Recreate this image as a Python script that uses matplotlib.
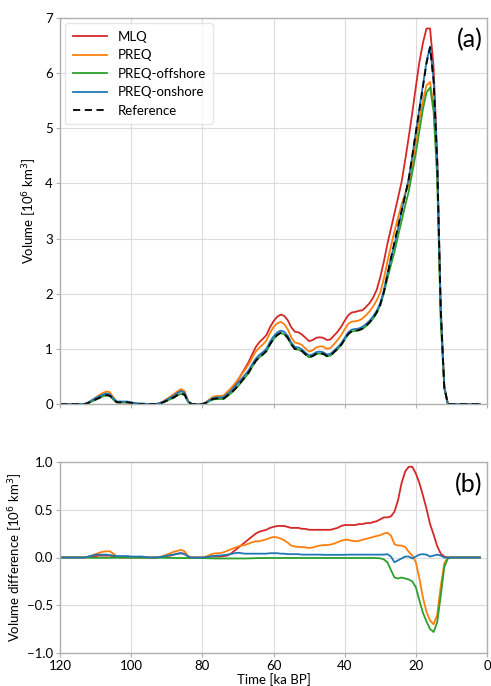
import numpy as np
import matplotlib
matplotlib.use("Agg")
import matplotlib.pyplot as plt

plt.rcParams['font.family'] = ['Lato', 'DejaVu Sans']

# time grid [ka BP], 120 -> 2
time_ka = list(range(120, 1, -1))

# Reference ice volume [10^6 km^3], one value per ka from 120 to 2
reference = [
    0, 0, 0, 0, 0, 0, 0, 0.0,                       # 120-113
    0.02, 0.05, 0.08, 0.11, 0.14, 0.16, 0.15, 0.08,  # 112-105
    0.03, 0.03, 0.03, 0.03, 0.02, 0.01,              # 104-99
    0.0, 0.0, 0.0, 0.0, 0.0, 0.0,                    # 98-93
    0.01, 0.03, 0.06, 0.09, 0.12, 0.16, 0.19, 0.17,  # 92-85
    0.04, 0.0, 0.0, 0.0, 0.0,                        # 84-80
    0.02, 0.06, 0.09, 0.10, 0.10, 0.10,              # 79-74
    0.15, 0.20, 0.26, 0.33, 0.41, 0.49, 0.57, 0.68,  # 73-66
    0.78, 0.85, 0.90, 0.96, 1.08, 1.18, 1.25, 1.29,  # 65-58
    1.27, 1.20, 1.08, 1.00, 0.99, 0.96, 0.90, 0.85,  # 57-50
    0.87, 0.91, 0.92, 0.91, 0.87, 0.88, 0.94, 1.00,  # 49-42
    1.07, 1.17, 1.27, 1.32, 1.33, 1.34, 1.37, 1.42,  # 41-34
    1.48, 1.56, 1.66, 1.80, 2.03, 2.33, 2.64, 2.94,  # 33-26
    3.22, 3.50, 3.78, 4.08, 4.50, 4.92, 5.33, 5.75,  # 25-18
    6.18, 6.47, 5.85, 4.40, 1.70, 0.30, 0.0,         # 17-11
    0, 0, 0, 0, 0, 0, 0, 0, 0,                       # 10-2
]

# Differences from the reference shown in panel (b) [10^6 km^3]
diff_mlq = [
    0, 0, 0, 0, 0, 0, 0, 0,
    0.005, 0.01, 0.015, 0.02, 0.02, 0.02, 0.02, 0.01,
    0.005, 0, 0, 0, 0, 0,
    0, 0, 0, 0, 0, 0,
    0.005, 0.01, 0.015, 0.02, 0.03, 0.04, 0.045, 0.04,
    0.01, 0, 0, 0, 0,
    0.005, 0.01, 0.01, 0.01, 0.01, 0.015,
    0.02, 0.04, 0.07, 0.10, 0.13, 0.16, 0.19, 0.22,
    0.25, 0.27, 0.28, 0.29, 0.31, 0.32, 0.33, 0.33,
    0.33, 0.32, 0.31, 0.31, 0.31, 0.30, 0.30, 0.29,
    0.29, 0.29, 0.29, 0.29, 0.29, 0.29, 0.30, 0.31,
    0.33, 0.34, 0.34, 0.34, 0.34, 0.35, 0.35, 0.36,
    0.36, 0.37, 0.38, 0.40, 0.42, 0.42, 0.43, 0.48,
    0.60, 0.78, 0.90, 0.95, 0.95, 0.88, 0.78, 0.65,
    0.51, 0.35, 0.24, 0.12, 0.04, 0.01, 0.0,
    0, 0, 0, 0, 0, 0, 0, 0, 0,
]

diff_preq = [
    0, 0, 0, 0, 0, 0, 0, 0,
    0.01, 0.02, 0.035, 0.05, 0.06, 0.065, 0.065, 0.04,
    0.01, 0.01, 0.005, 0.005, 0.005, 0.0,
    0, 0, 0, 0, 0, 0,
    0.005, 0.015, 0.03, 0.045, 0.06, 0.07, 0.08, 0.065,
    0.015, 0, 0, 0, 0,
    0.01, 0.025, 0.04, 0.045, 0.045, 0.055,
    0.07, 0.085, 0.10, 0.115, 0.125, 0.13, 0.145, 0.16,
    0.17, 0.17, 0.18, 0.19, 0.205, 0.215, 0.21, 0.20,
    0.18, 0.155, 0.125, 0.115, 0.11, 0.11, 0.105, 0.10,
    0.105, 0.115, 0.125, 0.13, 0.13, 0.135, 0.145, 0.16,
    0.175, 0.185, 0.185, 0.175, 0.17, 0.175, 0.185, 0.195,
    0.205, 0.215, 0.225, 0.235, 0.25, 0.26, 0.23, 0.14,
    0.125, 0.125, 0.11, 0.06, 0.02, -0.05, -0.22, -0.42,
    -0.57, -0.66, -0.70, -0.60, -0.30, -0.06, 0.0,
    0, 0, 0, 0, 0, 0, 0, 0, 0,
]

diff_offshore = [
    0, 0, 0, 0, 0, 0, 0, 0,
    -0.002, -0.003, -0.003, -0.003, -0.003, -0.003, -0.003, -0.003,
    -0.002, -0.002, -0.002, -0.002, -0.002, -0.002,
    -0.002, -0.002, -0.002, -0.002, -0.002, -0.002,
    -0.002, -0.003, -0.004, -0.004, -0.005, -0.005, -0.006, -0.006,
    -0.006, -0.005, -0.005, -0.005, -0.006,
    -0.007, -0.008, -0.009, -0.01, -0.01, -0.01,
    -0.01, -0.01, -0.01, -0.01, -0.01, -0.01, -0.009, -0.008,
    -0.007, -0.006, -0.006, -0.005, -0.005, -0.005, -0.005, -0.005,
    -0.005, -0.005, -0.005, -0.005, -0.005, -0.005, -0.005, -0.005,
    -0.005, -0.005, -0.005, -0.005, -0.005, -0.005, -0.005, -0.005,
    -0.005, -0.005, -0.005, -0.005, -0.005, -0.005, -0.005, -0.005,
    -0.005, -0.005, -0.006, -0.008, -0.02, -0.05, -0.13, -0.21,
    -0.22, -0.21, -0.22, -0.23, -0.25, -0.31, -0.45, -0.58,
    -0.67, -0.75, -0.78, -0.68, -0.40, -0.10, -0.01,
    0, 0, 0, 0, 0, 0, 0, 0, 0,
]

diff_onshore = [
    0, 0, 0, 0, 0, 0, 0, 0,
    0.01, 0.02, 0.03, 0.03, 0.03, 0.03, 0.025, 0.02,
    0.015, 0.015, 0.015, 0.015, 0.01, 0.01,
    0.01, 0.01, 0.005, 0.0, 0.0, 0.0,
    0.005, 0.01, 0.02, 0.025, 0.03, 0.04, 0.045, 0.035,
    0.01, 0.0, 0, 0, 0,
    0.005, 0.01, 0.015, 0.02, 0.02, 0.025,
    0.03, 0.035, 0.045, 0.05, 0.045, 0.04, 0.04, 0.04,
    0.04, 0.04, 0.04, 0.04, 0.045, 0.045, 0.045, 0.04,
    0.04, 0.035, 0.035, 0.035, 0.035, 0.03, 0.03, 0.03,
    0.03, 0.03, 0.03, 0.028, 0.028, 0.028, 0.028, 0.028,
    0.028, 0.028, 0.03, 0.03, 0.03, 0.03, 0.03, 0.03,
    0.03, 0.03, 0.03, 0.03, 0.03, 0.035, 0.01, -0.05,
    -0.03, -0.01, 0.01, 0.01, -0.01, 0.01, 0.03, 0.035,
    0.03, 0.01, 0.02, 0.03, 0.02, 0.0, 0.0,
    0, 0, 0, 0, 0, 0, 0, 0, 0,
]

# Panel (a) volumes read directly over the deglaciation window, 35 -> 11 ka
window_ka = list(range(35, 10, -1))
mlq_window = [
    1.70, 1.76, 1.83, 1.93, 2.07, 2.30, 2.58, 2.90, 3.18, 3.46,
    3.74, 4.03, 4.42, 4.84, 5.28, 5.75, 6.20, 6.55, 6.81, 6.81,
    6.10, 4.50, 1.75, 0.32, 0.0,
]
preq_window = [
    1.55, 1.61, 1.68, 1.77, 1.88, 2.02, 2.27, 2.58, 2.86, 3.13,
    3.38, 3.62, 3.82, 3.97, 4.35, 4.75, 5.15, 5.50, 5.78, 5.84,
    5.40, 4.20, 1.60, 0.30, 0.0,
]
offshore_window = [
    1.36, 1.41, 1.47, 1.55, 1.65, 1.79, 2.00, 2.27, 2.52, 2.76,
    3.05, 3.32, 3.60, 3.85, 4.20, 4.55, 4.95, 5.35, 5.65, 5.74,
    5.30, 4.10, 1.50, 0.28, 0.0,
]

series_names = ["MLQ", "PREQ", "PREQ-offshore", "PREQ-onshore"]
series_colors = ["#d62728", "#ff7f0e", "#2ca02c", "#1f77b4"]

t = np.array(time_ka, dtype=float)
ref = np.array(reference)
diffs = [np.array(d) for d in (diff_mlq, diff_preq, diff_offshore, diff_onshore)]
windows = [mlq_window, preq_window, offshore_window, None]

win_idx = [time_ka.index(w) for w in window_ka]
volumes = []
for d, w in zip(diffs, windows):
    v = ref + d
    if w is not None:
        v[win_idx] = w
    volumes.append(v)

fig = plt.figure(figsize=(4.91, 6.86), dpi=100)
ax1 = fig.add_axes([60/491, 1-404/686, 427/491, 386/686])
ax2 = fig.add_axes([60/491, 1-653/686, 427/491, 191/686])

spine_col = "#b0b0b0"
grid_col = "#dcdcdc"
lw = 1.3

for ax in (ax1, ax2):
    ax.set_xlim(120, 0)
    ax.set_xticks([120, 100, 80, 60, 40, 20, 0])
    ax.grid(True, color=grid_col, linewidth=0.8)
    ax.set_axisbelow(True)
    for s in ax.spines.values():
        s.set_color(spine_col)
        s.set_linewidth(1.0)
    ax.tick_params(colors=spine_col, labelcolor="black", labelsize=9.5,
                   length=3, width=0.8, pad=2)

for name, col, v in zip(series_names, series_colors, volumes):
    ax1.plot(t, v, color=col, lw=lw, label=name)
ax1.plot(t, ref, color="black", lw=1.3, ls=(0, (4, 2.5)), label="Reference")
ax1.set_ylim(0, 7)
ax1.set_yticks(range(0, 8))
ax1.tick_params(labelbottom=False)
ax1.set_ylabel("Volume [10$^6$ km$^3$]", fontsize=9.5)
ax1.yaxis.set_label_coords(-0.05, 0.5)
leg = ax1.legend(loc="upper left", fontsize=9.5, frameon=True, handlelength=2.6,
                 borderpad=0.55, labelspacing=0.5, borderaxespad=0.4)
leg.get_frame().set_edgecolor("#e0e0e0")
ax1.text(0.99, 0.975, "(a)", transform=ax1.transAxes, ha="right", va="top",
         fontsize=18)

for name, col, d in zip(series_names, series_colors, diffs):
    ax2.plot(t, d, color=col, lw=lw, label=name)
ax2.set_ylim(-1, 1)
ax2.set_yticks([-1.0, -0.5, 0.0, 0.5, 1.0])
ax2.set_yticklabels(["\u22121.0", "\u22120.5", "0.0", "0.5", "1.0"])
ax2.set_ylabel("Volume difference [10$^6$ km$^3$]", fontsize=9.5)
ax2.yaxis.set_label_coords(-0.082, 0.5)
ax2.set_xlabel("Time [ka BP]", fontsize=9.5, labelpad=1)
ax2.text(0.99, 0.94, "(b)", transform=ax2.transAxes, ha="right", va="top",
         fontsize=18)

fig.savefig("out.png", dpi=100)
